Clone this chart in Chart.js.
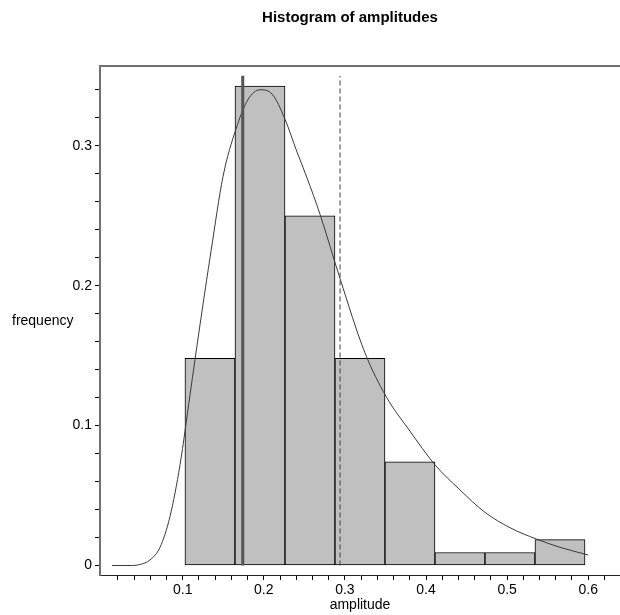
<!DOCTYPE html>
<html><head><meta charset="utf-8">
<script src="https://cdn.jsdelivr.net/npm/chart.js@4.4.1/dist/chart.umd.min.js"></script>
<style>html,body{margin:0;padding:0;background:#fff;}</style>
</head><body>
<canvas id="c" width="620" height="615" style="display:block;width:620px;height:615px"></canvas>
<script>
const chartTitle = 'Histogram of amplitudes';
const xTitle = 'amplitude';
const yTitle = 'frequency';

const binCenters = [0.1336, 0.1953, 0.2569, 0.3186, 0.3802, 0.4419, 0.5035, 0.5652];
const binFrequencies = [0.148, 0.3426, 0.25, 0.148, 0.0741, 0.0093, 0.0093, 0.0185];

const curveX = [0.0128, 0.035, 0.0473, 0.0597, 0.072, 0.0843, 0.0967, 0.109, 0.1213, 0.135, 0.1497, 0.1657, 0.1805, 0.1953, 0.2101, 0.2261, 0.24, 0.2533, 0.2693, 0.294, 0.3247, 0.3506, 0.3802, 0.411, 0.4419, 0.4727, 0.5036, 0.5356, 0.5652, 0.6];
const curveY = [0, 0, 0.0007, 0.004, 0.013, 0.035, 0.072, 0.122, 0.172, 0.225, 0.278, 0.312, 0.333, 0.340, 0.337, 0.319, 0.297, 0.277, 0.251, 0.205, 0.152, 0.121, 0.096, 0.072, 0.054, 0.038, 0.027, 0.019, 0.013, 0.0075];

const solidLineX = [0.174, 0.174];
const solidLineY = [0, 0.350];
const dashedLineX = [0.294, 0.294];
const dashedLineY = [0, 0.350];

const xTickValues = [0.02,0.04,0.06,0.08,0.1,0.12,0.14,0.16,0.18,0.2,0.22,0.24,0.26,0.28,0.3,0.32,0.34,0.36,0.38,0.4,0.42,0.44,0.46,0.48,0.5,0.52,0.54,0.56,0.58,0.6,0.62];
const xLabelValues = [0.1, 0.2, 0.3, 0.4, 0.5, 0.6];
const xLabelTexts = ['0.1', '0.2', '0.3', '0.4', '0.5', '0.6'];
const yTickValues = [0,0.02,0.04,0.06,0.08,0.1,0.12,0.14,0.16,0.18,0.2,0.22,0.24,0.26,0.28,0.3,0.32,0.34];
const yLabelValues = [0, 0.1, 0.2, 0.3];
const yLabelTexts = ['0', '0.1', '0.2', '0.3'];

const FONT = '"Liberation Sans", Arial, sans-serif';

function labelFor(v, vals, texts) {
  for (let i = 0; i < vals.length; i++) if (Math.abs(vals[i] - v) < 1e-9) return texts[i];
  return '';
}
const zip = (xs, ys) => xs.map((x, i) => ({x: x, y: ys[i]}));

const textPlugin = {
  id: 'texts',
  afterDraw(chart) {
    const {ctx, chartArea} = chart;
    ctx.save();
    ctx.fillStyle = '#000';
    ctx.textBaseline = 'middle';
    ctx.textAlign = 'center';
    ctx.font = 'bold 15px ' + FONT;
    ctx.fillText(chartTitle, 350, 18);
    ctx.font = '14px ' + FONT;
    ctx.fillText(xTitle, (chartArea.left + chartArea.right) / 2, 605);
    ctx.textAlign = 'left';
    ctx.fillText(yTitle, 12, (chartArea.top + chartArea.bottom) / 2 + 1);
    ctx.restore();
  }
};

new Chart(document.getElementById('c'), {
  type: 'bar',
  data: {
    datasets: [
      {
        type: 'line', data: zip(curveX, curveY), borderColor: '#3a3a3a', borderWidth: 1,
        pointRadius: 0, cubicInterpolationMode: 'monotone', fill: false, order: 1
      },
      {
        type: 'line', data: zip(solidLineX, solidLineY), borderColor: '#555555', borderWidth: 3,
        pointRadius: 0, fill: false, order: 0
      },
      {
        type: 'line', data: zip(dashedLineX, dashedLineY), borderColor: '#444444', borderWidth: 1,
        borderDash: [5, 3], pointRadius: 0, fill: false, order: 0
      },
      {
        type: 'bar', data: zip(binCenters, binFrequencies), backgroundColor: '#c0c0c0',
        borderColor: '#000', borderWidth: 1, borderSkipped: false,
        barThickness: 'flex', barPercentage: 1, categoryPercentage: 1, order: 5
      }
    ]
  },
  options: {
    responsive: false,
    animation: false,
    devicePixelRatio: 1,
    layout: {padding: {top: 66, left: 0, right: 0, bottom: 0}},
    plugins: {legend: {display: false}, tooltip: {enabled: false}, title: {display: false}},
    scales: {
      x: {
        type: 'linear', position: 'bottom', min: -0.002, max: 0.6392, offset: false,
        afterBuildTicks: s => { s.ticks = xTickValues.map(v => ({value: v})); },
        afterFit: s => { s.height = 40; },
        ticks: {autoSkip: false, maxRotation: 0, padding: 2, color: '#000',
          font: {family: FONT, size: 14},
          callback: v => labelFor(v, xLabelValues, xLabelTexts)},
        grid: {drawOnChartArea: false, drawTicks: true, tickLength: 5, color: '#000', offset: false},
        border: {display: true, color: '#222', width: 1}
      },
      x2: {
        type: 'linear', position: 'top', min: -0.002, max: 0.6392, offset: false,
        afterFit: s => { s.height = 0; },
        ticks: {display: false},
        grid: {display: false, drawTicks: false},
        border: {display: true, color: '#707070', width: 2}
      },
      y: {
        type: 'linear', position: 'left', min: -0.0068, max: 0.357,
        afterBuildTicks: s => { s.ticks = yTickValues.map(v => ({value: v})); },
        afterFit: s => { s.width = 100; },
        ticks: {autoSkip: false, padding: 3, color: '#000',
          font: {family: FONT, size: 14},
          callback: v => labelFor(v, yLabelValues, yLabelTexts)},
        grid: {drawOnChartArea: false, drawTicks: true, tickLength: 5, color: '#000'},
        border: {display: true, color: '#707070', width: 2}
      }
    }
  },
  plugins: [textPlugin]
});
</script>
</body></html>
